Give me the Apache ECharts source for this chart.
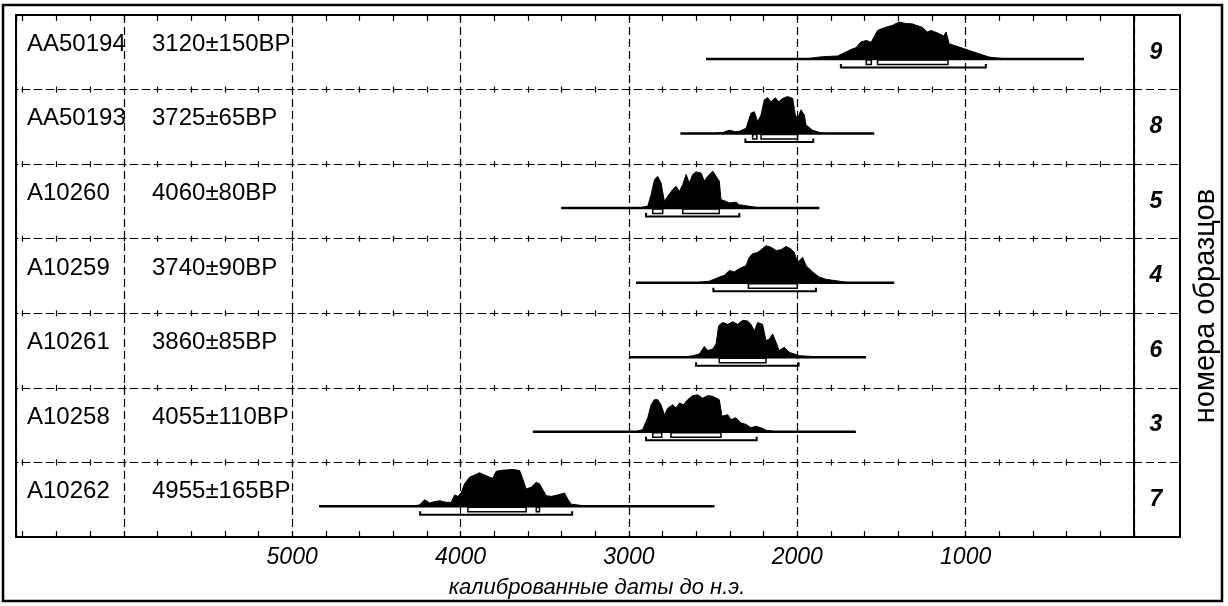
<!DOCTYPE html>
<html>
<head>
<meta charset="utf-8">
<script src="https://cdn.jsdelivr.net/npm/echarts@6/dist/echarts.min.js"></script>
<style>
    html, body { margin: 0; padding: 0; background: #fff; }
    #chart { width: 1228px; height: 606px; }
</style>
</head>
<body>
<div id="chart"></div>
<script>
// rows from top to bottom
const sampleIds = ['AA50194', 'AA50193', 'A10260', 'A10259', 'A10261', 'A10258', 'A10262']
const bpDates = ['3120±150BP', '3725±65BP', '4060±80BP', '3740±90BP', '3860±85BP', '4055±110BP', '4955±165BP']
const sampleNumbers = ['9', '8', '5', '4', '6', '3', '7']
const yearTicks = [5000, 4000, 3000, 2000, 1000]

// extent of the thin base line of each row, cal BC
const lineRanges = [[2542, 297], [2694, 1543], [3402, 1869], [2957, 1424], [2997, 1592], [3571, 1652], [4840, 2492]]

// probability curves [year BC, relative probability]
const dist9 = [[1950, 0], [1889, 0.04], [1850, 0.06], [1760, 0.08], [1733, 0.14], [1673, 0.27], [1652, 0.3], [1622, 0.46], [1590, 0.5], [1561, 0.45],
    [1523, 0.77], [1503, 0.81], [1472, 0.86], [1434, 0.91], [1395, 1.0], [1355, 0.96], [1317, 0.95], [1294, 0.91], [1258, 0.86], [1228, 0.73],
    [1204, 0.77], [1187, 0.74], [1157, 0.68], [1130, 0.62], [1116, 0.73], [1098, 0.41], [1038, 0.32], [979, 0.23], [920, 0.14], [860, 0.05],
    [801, 0.02], [750, 0]]
const dist8 = [[2500, 0], [2440, 0.03], [2403, 0.09], [2370, 0.05], [2344, 0.06], [2304, 0.14], [2275, 0.55], [2255, 0.59], [2235, 0.32], [2215, 0.5],
    [2196, 0.91], [2176, 0.97], [2156, 0.86], [2130, 0.97], [2111, 0.86], [2087, 0.95], [2057, 1.0], [2027, 0.95], [2012, 0.5], [1998, 0.41],
    [1978, 0.64], [1958, 0.5], [1948, 0.23], [1909, 0.09], [1869, 0.03], [1820, 0]]
const dist5 = [[2950, 0], [2888, 0.05], [2868, 0.36], [2848, 0.77], [2829, 0.86], [2809, 0.68], [2789, 0.18], [2769, 0.32], [2740, 0.5], [2720, 0.59],
    [2700, 0.45], [2680, 0.64], [2660, 0.91], [2641, 0.68], [2621, 0.91], [2601, 0.98], [2571, 0.95], [2552, 0.73], [2532, 0.86], [2502, 1.0],
    [2482, 0.86], [2463, 0.73], [2453, 0.23], [2423, 0.18], [2403, 0.14], [2364, 0.16], [2344, 0.09], [2285, 0.05], [2245, 0.02], [2200, 0]]
const dist4 = [[2600, 0], [2522, 0.04], [2463, 0.15], [2433, 0.2], [2403, 0.33], [2374, 0.29], [2344, 0.38], [2304, 0.46], [2285, 0.69], [2265, 0.78],
    [2235, 0.82], [2215, 0.89], [2186, 1.0], [2156, 0.96], [2126, 0.87], [2097, 0.89], [2067, 0.98], [2037, 0.91], [2018, 0.82], [1998, 0.55],
    [1968, 0.69], [1948, 0.46], [1909, 0.29], [1869, 0.15], [1830, 0.09], [1751, 0.04], [1700, 0]]
const dist6 = [[2680, 0], [2621, 0.04], [2581, 0.09], [2552, 0.29], [2532, 0.18], [2502, 0.22], [2482, 0.36], [2467, 0.85], [2443, 0.94], [2413, 0.89],
    [2383, 0.96], [2354, 0.89], [2324, 1.0], [2295, 0.98], [2275, 0.89], [2255, 0.71], [2235, 0.94], [2206, 0.89], [2186, 0.45], [2166, 0.49],
    [2146, 0.63], [2126, 0.4], [2107, 0.18], [2077, 0.27], [2047, 0.13], [2018, 0.09], [1988, 0.04], [1909, 0.02], [1850, 0]]
const dist3 = [[2960, 0], [2918, 0.06], [2888, 0.38], [2868, 0.73], [2848, 0.87], [2829, 0.87], [2809, 0.73], [2789, 0.46], [2769, 0.64], [2740, 0.73],
    [2720, 0.64], [2700, 0.78], [2676, 0.73], [2651, 0.87], [2621, 0.98], [2591, 1.0], [2562, 0.91], [2532, 0.98], [2502, 0.96], [2463, 0.87],
    [2447, 0.42], [2413, 0.46], [2393, 0.33], [2364, 0.38], [2334, 0.24], [2304, 0.2], [2275, 0.11], [2245, 0.15], [2206, 0.09], [2186, 0.04], [2120, 0]]
const dist7 = [[4300, 0], [4243, 0.04], [4213, 0.18], [4183, 0.09], [4154, 0.13], [4124, 0.15], [4085, 0.11], [4055, 0.11], [4035, 0.31], [4015, 0.27],
    [3995, 0.38], [3976, 0.61], [3946, 0.79], [3916, 0.85], [3887, 0.91], [3857, 0.85], [3827, 0.79], [3808, 0.76], [3788, 0.95], [3748, 0.98],
    [3689, 1.0], [3649, 0.97], [3634, 0.79], [3610, 0.47], [3580, 0.52], [3550, 0.65], [3531, 0.61], [3511, 0.45], [3491, 0.29], [3461, 0.27],
    [3422, 0.31], [3382, 0.36], [3363, 0.2], [3343, 0.06], [3274, 0.02], [3200, 0]]
const distributions = [dist9, dist8, dist5, dist4, dist6, dist3, dist7]

// 68.2% (boxes) and 95.4% (bracket) ranges, cal BC
const ranges68 = [
    [[1590, 1560], [1523, 1105]],
    [[2265, 2240], [2215, 1998]],
    [[2858, 2799], [2680, 2463]],
    [[2290, 2000]],
    [[2463, 2186]],
    [[2858, 2805], [2750, 2453]],
    [[3956, 3610], [3550, 3531]],
]
const ranges95 = [[1741, 880], [2308, 1905], [2898, 2344], [2498, 1889], [2601, 1992], [2898, 2241], [4240, 3337]]

const FONT = 'Liberation Sans, Arial, sans-serif'
const LEFT = 16
const RIGHT = 1134
const TOP = 15
const BOTTOM = 537
const ROW_H = (BOTTOM - TOP) / 7
const X_MAX = 6640
const dash = [8, 4]

const chart = echarts.init(document.getElementById('chart'), null, { renderer: 'canvas' })

let grid = []
let xAxis = []
let yAxis = []
let series = []

sampleIds.forEach((id, k) => {
    const last = k === sampleIds.length - 1
    grid.push({ left: LEFT, width: RIGHT - LEFT, top: TOP + k * ROW_H, height: ROW_H })
    // bottom axis of row: divider line with ticks every 200 years
    xAxis.push({
        gridIndex: k,
        type: 'value',
        inverse: true,
        min: 0,
        max: X_MAX,
        interval: 200,
        position: 'bottom',
        axisLine: { show: !last, onZero: false, lineStyle: { color: '#000', width: 1, type: dash } },
        axisTick: { show: true, inside: true, length: last ? 6 : 3, lineStyle: { color: '#000', width: 1.2 } },
        splitLine: { show: false },
        axisLabel: {
            show: last,
            margin: 9,
            color: '#000',
            fontFamily: FONT,
            fontSize: 23,
            fontStyle: 'italic',
            formatter: (v) => yearTicks.includes(v) ? String(v) : '',
        },
        name: last ? 'калиброванные даты до н.э.' : '',
        nameLocation: 'middle',
        nameGap: 40,
        nameTextStyle: { color: '#000', fontFamily: FONT, fontSize: 22, fontStyle: 'italic', padding: [0, 0, 0, 44] },
    })
    // top axis of row: the other half of the tick crosses
    xAxis.push({
        gridIndex: k,
        type: 'value',
        inverse: true,
        min: 0,
        max: X_MAX,
        interval: 200,
        position: 'top',
        axisLine: { show: false, onZero: false },
        axisTick: { show: true, inside: true, length: k === 0 ? 6 : 3, lineStyle: { color: '#000', width: 1.2 } },
        splitLine: { show: false },
        axisLabel: { show: false },
    })
    yAxis.push({ gridIndex: k, type: 'value', min: -0.83, max: 1.19, show: false })

    series.push({
        type: 'line',
        xAxisIndex: 2 * k,
        yAxisIndex: k,
        data: distributions[k],
        showSymbol: false,
        lineStyle: { color: '#000', width: 1 },
        areaStyle: { color: '#000', opacity: 1 },
        z: 3,
    })
    series.push({
        type: 'line',
        xAxisIndex: 2 * k,
        yAxisIndex: k,
        data: [[lineRanges[k][0], 0], [lineRanges[k][1], 0]],
        showSymbol: false,
        lineStyle: { color: '#000', width: 2.5 },
        z: 4,
    })
    let rangeData = ranges68[k].map(r => [r[0], r[1], 0])
    rangeData.push([ranges95[k][0], ranges95[k][1], 1])
    series.push({
        type: 'custom',
        xAxisIndex: 2 * k,
        yAxisIndex: k,
        encode: { x: [0, 1], y: 2 },
        data: rangeData,
        z: 5,
        renderItem(params, api) {
            const a = api.coord([api.value(0), 0])
            const b = api.coord([api.value(1), 0])
            const x1 = Math.min(a[0], b[0])
            const x2 = Math.max(a[0], b[0])
            const y = a[1]
            if (api.value(2) === 0) {
                return {
                    type: 'rect',
                    shape: { x: x1, y: y + 1, width: x2 - x1, height: 4.5 },
                    style: { fill: 'none', stroke: '#000', lineWidth: 1.5 },
                }
            }
            return {
                type: 'polyline',
                shape: { points: [[x1, y + 5], [x1, y + 8.5], [x2, y + 8.5], [x2, y + 5]] },
                style: { fill: 'none', stroke: '#000', lineWidth: 2 },
            }
        },
    })
})

// frame grid: border, vertical grid lines every 1000 years, row labels
grid.push({ left: LEFT, width: RIGHT - LEFT, top: TOP, height: BOTTOM - TOP, show: true, borderColor: '#000', borderWidth: 2, backgroundColor: 'transparent' })
xAxis.push({
    gridIndex: 7,
    type: 'value',
    inverse: true,
    min: 0,
    max: X_MAX,
    interval: 1000,
    axisLine: { show: false, onZero: false },
    axisTick: { show: false },
    axisLabel: { show: false },
    splitLine: { show: true, lineStyle: { color: '#000', width: 1.2, type: dash } },
})
yAxis.push({
    gridIndex: 7,
    type: 'category',
    inverse: true,
    data: sampleIds,
    axisLine: { show: false },
    axisTick: { show: false },
    splitLine: { show: false },
    axisLabel: {
        inside: true,
        margin: 11,
        padding: [0, 0, 16, 0],
        formatter: (value, index) => `{id|${value}}{bp|${bpDates[index]}}`,
        rich: {
            id: { width: 125, color: '#000', fontFamily: FONT, fontSize: 24 },
            bp: { color: '#000', fontFamily: FONT, fontSize: 24 },
        },
    },
})

// sample number column
grid.push({ left: RIGHT, width: 1180 - RIGHT, top: TOP, height: BOTTOM - TOP, show: true, borderColor: '#000', borderWidth: 2, backgroundColor: 'transparent' })
xAxis.push({ gridIndex: 8, type: 'value', min: 0, max: 1, show: false })
yAxis.push({
    gridIndex: 8,
    type: 'category',
    inverse: true,
    data: sampleNumbers,
    axisLine: { show: false },
    axisTick: { show: false },
    splitLine: { show: true, lineStyle: { color: '#000', width: 1, type: dash } },
    axisLabel: {
        inside: true,
        margin: 22,
        align: 'center',
        padding: [12, 0, 0, 0],
        color: '#000',
        fontFamily: FONT,
        fontSize: 23,
        fontWeight: 'bold',
        fontStyle: 'italic',
    },
})
yAxis.push({
    gridIndex: 8,
    type: 'category',
    inverse: true,
    position: 'right',
    data: sampleNumbers,
    axisLine: { show: false },
    axisTick: { show: false },
    axisLabel: { show: false },
    splitLine: { show: false },
    name: 'номера образцов',
    nameLocation: 'middle',
    nameGap: 11,
    nameTextStyle: { color: '#000', fontFamily: FONT, fontSize: 29, padding: [0, 60, 0, 0] },
})

chart.setOption({
    backgroundColor: '#fff',
    animation: false,
    graphic: [{
        type: 'rect',
        shape: { x: 3, y: 5, width: 1219, height: 596 },
        style: { fill: 'none', stroke: '#000', lineWidth: 2.5 },
        z: 10,
    }],
    grid: grid,
    xAxis: xAxis,
    yAxis: yAxis,
    series: series,
})
</script>
</body>
</html>
